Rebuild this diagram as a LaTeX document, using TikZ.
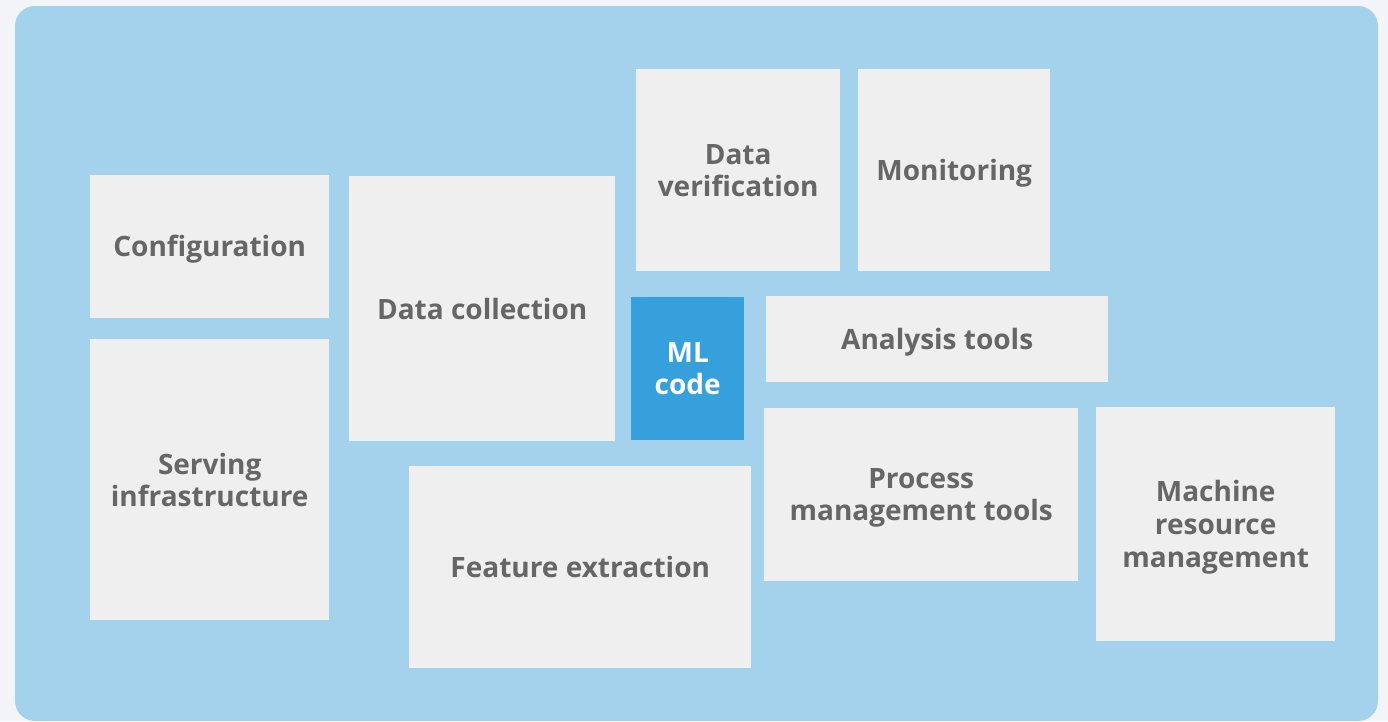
\documentclass[tikz,border=0pt]{standalone}
\usepackage{fontspec}
\setmainfont{Open Sans}
\definecolor{outerbg}{HTML}{F2F4F8}
\definecolor{panel}{HTML}{A4D2EC}
\definecolor{boxfill}{HTML}{EFEFEF}
\definecolor{boxtext}{HTML}{666666}
\definecolor{mlblue}{HTML}{35A0DB}
\tikzset{
  box/.style={fill=boxfill, draw=none, inner sep=0pt, align=center,
    text=boxtext, font=\fontsize{28}{32}\selectfont\bfseries, anchor=north west},
  mlbox/.style={box, fill=mlblue, text=white},
}
\begin{document}
\begin{tikzpicture}[x=1pt,y=-1pt]
\fill[outerbg] (0,0) rectangle (1388,721);
\useasboundingbox (0,0) rectangle (1388,721);
\fill[panel, rounded corners=20pt] (15,6) rectangle (1378,721);
\node[box, minimum width=239pt, minimum height=143pt, text depth=1pt] (config) at (90,175) {Configuration};
\node[box, minimum width=239pt, minimum height=281pt] (serving) at (90,339) {Serving\\infrastructure};
\node[box, minimum width=266pt, minimum height=265pt] (collect) at (349,176) {Data collection};
\node[box, minimum width=204pt, minimum height=202pt] (verify) at (636,69) {Data\\verification};
\node[box, minimum width=192pt, minimum height=202pt, text depth=-1pt] (monitor) at (858,69) {Monitoring};
\node[mlbox, minimum width=113pt, minimum height=143pt] (ml) at (631,297) {ML\\code};
\node[box, minimum width=342pt, minimum height=86pt, text depth=-8pt] (analysis) at (766,296) {Analysis tools};
\node[box, minimum width=314pt, minimum height=173pt, text depth=-5pt] (process) at (764,408) {Process\\management tools};
\node[box, minimum width=239pt, minimum height=234pt, text depth=-7pt, font=\fontsize{28}{33}\selectfont\bfseries] (machine) at (1096,407) {Machine\\resource\\management};
\node[box, minimum width=342pt, minimum height=202pt] (feature) at (409,466) {Feature extraction};
\end{tikzpicture}
\end{document}
